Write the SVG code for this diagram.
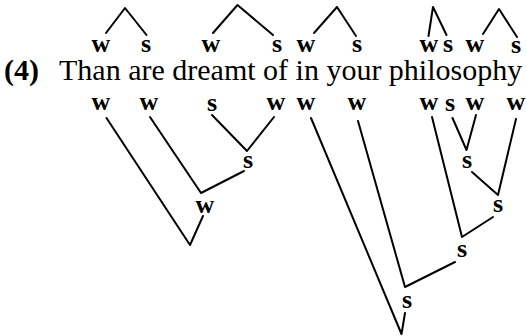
<svg xmlns="http://www.w3.org/2000/svg" width="527" height="336" viewBox="0 0 527 336">
<style>
.lbl{font-family:"Liberation Serif","Times New Roman",serif;font-size:26px;font-weight:bold;text-anchor:middle;fill:#000}
.sent{font-family:"Liberation Serif","Times New Roman",serif;font-size:30px;fill:#000}
.num{font-family:"Liberation Serif","Times New Roman",serif;font-size:30px;font-weight:bold;fill:#000}
.ln{stroke:#000;stroke-width:2;fill:none;stroke-linecap:round;stroke-linejoin:round}
</style>
<rect width="527" height="336" fill="#fff"/>
<g id="sentence">
<text class="num" x="4" y="80">(4)</text>
<text class="sent" x="59" y="80">Than are dreamt of in your philosophy</text>
</g>
<g id="top-labels">
<text class="lbl" x="101" y="52">w</text>
<text class="lbl" x="146" y="52">s</text>
<text class="lbl" x="211" y="52">w</text>
<text class="lbl" x="277" y="52">s</text>
<text class="lbl" x="306" y="52">w</text>
<text class="lbl" x="357" y="52">s</text>
<text class="lbl" x="429" y="52">w</text>
<text class="lbl" x="448" y="52">s</text>
<text class="lbl" x="475" y="52">w</text>
<text class="lbl" x="516" y="53">s</text>
</g>
<g id="bottom-labels">
<text class="lbl" x="101" y="110">w</text>
<text class="lbl" x="149" y="110">w</text>
<text class="lbl" x="212" y="111">s</text>
<text class="lbl" x="276" y="110">w</text>
<text class="lbl" x="306" y="110">w</text>
<text class="lbl" x="357" y="110">w</text>
<text class="lbl" x="429" y="110">w</text>
<text class="lbl" x="450" y="111">s</text>
<text class="lbl" x="475" y="110">w</text>
<text class="lbl" x="516" y="110">w</text>
</g>
<g id="tree-nodes">
<text class="lbl" x="205" y="213">w</text>
<text class="lbl" x="248" y="168">s</text>
<text class="lbl" x="467" y="168">s</text>
<text class="lbl" x="498" y="212">s</text>
<text class="lbl" x="462" y="257">s</text>
<text class="lbl" x="407" y="308">s</text>
</g>
<g id="connectors">
<polyline class="ln" points="106,33 125,8 146.5,35"/>
<polyline class="ln" points="213,33 237.5,5 273,35"/>
<polyline class="ln" points="314,33 337,7 356,36"/>
<polyline class="ln" points="428.5,36 433,7 446.5,35"/>
<polyline class="ln" points="483,34 499,9 517,37"/>
<polyline class="ln" points="106.5,118 190,245 203,216"/>
<polyline class="ln" points="150,117 201,193 244,171"/>
<polyline class="ln" points="212,115 247,151 274,117"/>
<polyline class="ln" points="311,118 401.5,334 405,313"/>
<polyline class="ln" points="358,121 405,287 455,262"/>
<polyline class="ln" points="432,117 462,237 493,217"/>
<polyline class="ln" points="516,119 498,195 472,172"/>
<polyline class="ln" points="452.5,118 466.5,150 476,115"/>
</g>
</svg>
